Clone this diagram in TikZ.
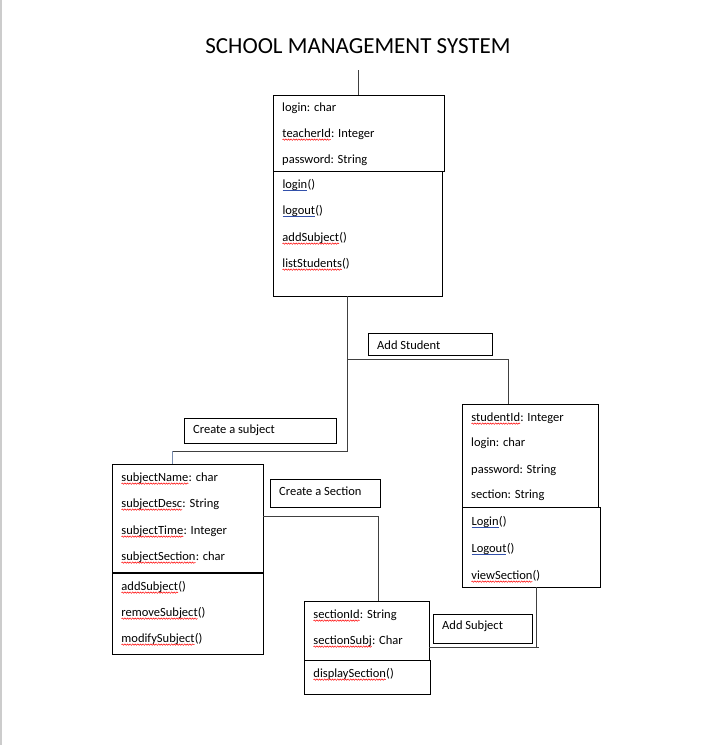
\documentclass[tikz,border=0pt]{standalone}
\usepackage{fontspec}
\setmainfont{Carlito}
\usetikzlibrary{calc,decorations.pathmorphing}
\definecolor{ulblue}{RGB}{50,80,170}
\definecolor{lnblue}{RGB}{120,140,175}
\newcommand\rw[1]{\tikz[baseline=(w.base),x=1pt,y=1pt]{\node[inner sep=0pt,outer sep=0pt,anchor=center,draw=none,font=\fontsize{12.5}{14}\selectfont] (w) {#1};\draw[red,line width=0.5pt,decorate,decoration={snake,amplitude=0.7pt,segment length=2.6pt}] ([yshift=-2.6pt]w.base west) -- ([yshift=-2.6pt]w.base east);}}
\newcommand\bu[1]{\tikz[baseline=(w.base),x=1pt,y=1pt]{\node[inner sep=0pt,outer sep=0pt,anchor=center,draw=none,font=\fontsize{12.5}{14}\selectfont] (w) {#1};\draw[ulblue,line width=0.6pt] ([yshift=-2.4pt]w.base west) -- ([yshift=-2.4pt]w.base east);}}
\begin{document}
\begin{tikzpicture}[x=1pt,y=-1pt,
  box/.style={draw=black,line width=1pt,anchor=north west,inner sep=0pt,outer sep=0pt},
  txt/.style={anchor=base west,inner sep=0pt,font=\fontsize{12.5}{14}\selectfont},
  conn/.style={draw=black!75,line width=1pt},
  lbl/.style={draw=black,line width=1pt,anchor=north west,inner sep=0pt,outer sep=0pt}]
\useasboundingbox (0,0) rectangle (714,745);
\fill[white] (0,0) rectangle (714,745);
\draw[black!20,line width=1.2pt] (1,0) -- (1,745);

% title
\node[inner sep=0pt,font=\fontsize{23}{26}\selectfont] (title) at (358,46) {SCHOOL MANAGEMENT SYSTEM};

% teacher class
\node[box,minimum width=171pt,minimum height=76pt] (tA) at (273,95) {};
\node[box,minimum width=169pt,minimum height=125pt] (tB) at (273,171) {};
\coordinate (ttop) at (358,70);
\draw[conn] (ttop) -- (ttop |- tA.north);
\node[txt] (t1) at (282,111) {login: char};
\node[txt] (t2) at (282,137) {\rw{teacherId}: Integer};
\node[txt] (t3) at (282,163) {password: String};
\node[txt] (t4) at (282,188) {\bu{login}()};
\node[txt] (t5) at (282,214) {\bu{logout}()};
\node[txt] (t6) at (282,241) {\rw{addSubject}()};
\node[txt] (t7) at (282,267) {\rw{listStudents}()};

% student class
\node[box,minimum width=136pt,minimum height=103pt] (sA) at (462,404) {};
\node[box,minimum width=138pt,minimum height=80pt] (sB) at (462,507) {};
\node[txt] (s1) at (471,421) {\rw{studentId}: Integer};
\node[txt] (s2) at (471,446) {login: char};
\node[txt] (s3) at (471,473) {password: String};
\node[txt] (s4) at (471,498) {section: String};
\node[txt] (s5) at (471,525) {\bu{Login}()};
\node[txt] (s6) at (471,552) {\bu{Logout}()};
\node[txt] (s7) at (471,579) {\rw{viewSection}()};

% subject class
\node[box,minimum width=151pt,minimum height=109pt] (uA) at (112,464) {};
\node[box,minimum width=151pt,minimum height=81pt] (uB) at (112,573) {};
\draw[black,line width=2pt] (uB.north west) -- (uB.north east);
\node[txt] (u1) at (121,481) {\rw{subjectName}: char};
\node[txt] (u2) at (121,507) {\rw{subjectDesc}: String};
\node[txt] (u3) at (121,534) {\rw{subjectTime}: Integer};
\node[txt] (u4) at (121,560) {\rw{subjectSection}: char};
\node[txt] (u5) at (121,590) {\rw{addSubject}()};
\node[txt] (u6) at (121,616) {\rw{removeSubject}()};
\node[txt] (u7) at (121,642) {\rw{modifySubject}()};

% section class
\node[box,minimum width=125pt,minimum height=59pt] (cA) at (304,601) {};
\node[box,minimum width=126pt,minimum height=34pt] (cB) at (304,660) {};
\node[txt] (c1) at (313,618) {\rw{sectionId}: String};
\node[txt] (c2) at (313,644) {\rw{sectionSubj}: Char};
\node[txt] (c3) at (313,677) {\rw{displaySection}()};

% labels
\node[lbl,minimum width=124pt,minimum height=22pt] (lAS) at (368,333) {};
\node[txt,anchor=west] (lASt) at (377,345) {Add Student};
\node[lbl,minimum width=152pt,minimum height=25pt] (lCS) at (184,418) {};
\node[txt,anchor=west] (lCSt) at (193,430) {Create a subject};
\node[lbl,minimum width=110pt,minimum height=28pt] (lSe) at (270,479) {};
\node[txt,anchor=west] (lSet) at (279,491) {Create a Section};
\node[lbl,minimum width=99pt,minimum height=29pt] (lSu) at (433,614) {};
\node[txt,anchor=west] (lSut) at (442,626) {Add Subject};

% connectors
\coordinate (tbot) at ([xshift=74pt]tB.south west);
\coordinate (j1) at (347,451);
\coordinate (j2) at (347,359);
\coordinate (j3) at (172,451);
\draw[conn] (tbot) -- (j1) -- (j3);
\draw[draw=lnblue,line width=1pt] (j3) -- (j3 |- uA.north);
\draw[conn] (j2) -| ([xshift=46pt]sA.north west);
\coordinate (j4) at (263,516);
\draw[conn] (j4) -| ([xshift=74pt]cA.north west);
\coordinate (j5) at (536,647);
\coordinate (j6) at (539,647);
\draw[conn] ([xshift=74pt]sB.south west) -- (j5);
\draw[conn] (cA.east |- j5) -- (j6);
\end{tikzpicture}
\end{document}
